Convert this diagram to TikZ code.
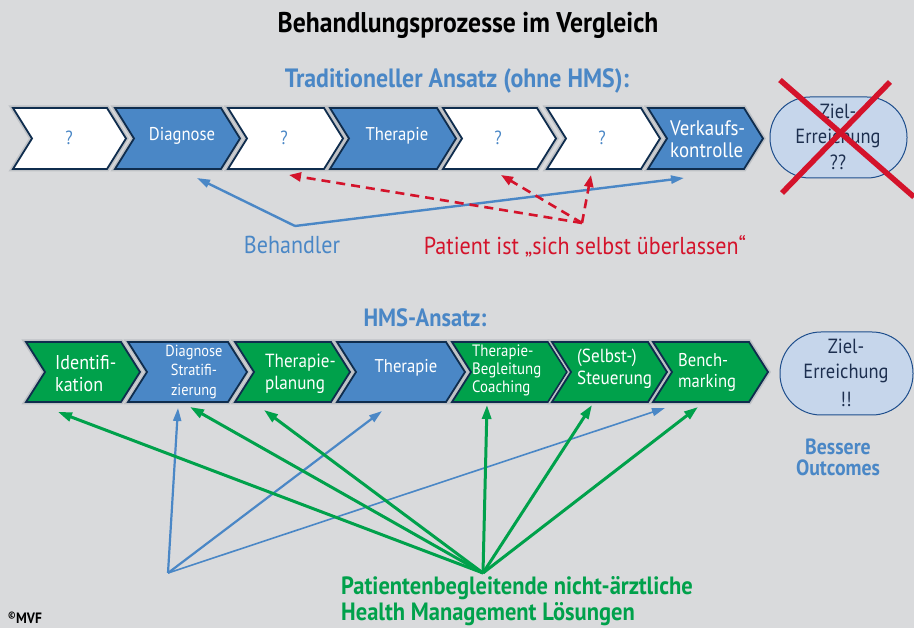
\documentclass[tikz,border=0pt]{standalone}
\usepackage{fontspec}
\setmainfont{PT Sans}[FakeStretch=0.9]
\usetikzlibrary{arrows.meta}
\definecolor{bg}{HTML}{D9DADC}
\definecolor{blueF}{HTML}{4A87C6}
\definecolor{greenF}{HTML}{00A14B}
\definecolor{navy}{HTML}{0F2D4E}
\definecolor{gapc}{HTML}{BEC1C5}
\definecolor{ellF}{HTML}{C6D6EB}
\definecolor{ellD}{HTML}{1E4E8C}
\definecolor{ellT}{HTML}{1D2F4F}
\definecolor{redC}{HTML}{D4132B}
\newcommand\fs[2]{\fontsize{#1}{#2}\selectfont}
% L tip top bot fill
\newcommand\chev[5]{%
  \path[draw=gapc, line width=5pt, line join=miter] (#1,#3) -- ({#2-19},#3) -- (#2,{(#3+#4)/2}) -- ({#2-19},#4) -- (#1,#4) -- ({#1+19},{(#3+#4)/2}) -- cycle;
  \path[fill=#5, draw=navy, line width=1.8pt, line join=miter] (#1,#3) -- ({#2-19},#3) -- (#2,{(#3+#4)/2}) -- ({#2-19},#4) -- (#1,#4) -- ({#1+19},{(#3+#4)/2}) -- cycle;
}
\begin{document}
\begin{tikzpicture}[x=1pt,y=-1pt,
  wtxt/.style={text=white, inner sep=0pt, align=left},
  qtxt/.style={text=blueF, inner sep=0pt, font=\fs{19}{22}},
  ell/.style={fill=ellF, draw=ellD, line width=1pt},
  elltxt/.style={text=ellT, inner sep=0pt, align=center},
  blarr/.style={draw=blueF, line width=2.4pt, -{Triangle[length=13pt,width=8pt]}},
  grarr/.style={draw=greenF, line width=3pt, -{Triangle[length=14pt,width=9pt]}},
  rdarr/.style={draw=redC, line width=2.6pt, dash pattern=on 9pt off 6pt, -{Triangle[length=12pt,width=9pt]}},
  head/.style={inner sep=0pt, font=\bfseries\fs{26.5}{30}}
]
\fill[bg] (0,0) rectangle (914,628);
\useasboundingbox (0,0) rectangle (914,628);

% titles
\node[head, font=\bfseries\fs{28.5}{32}] (title) at (468,25) {Behandlungsprozesse im Vergleich};
\node[head, text=blueF] (trad) at (457,81) {Traditioneller Ansatz (ohne HMS):};
\node[head, text=blueF, font=\bfseries\fs{25}{30}] (hms) at (425,318) {HMS-Ansatz:};

% row 1 chevrons
\chev{13}{126}{108}{169}{white}
\chev{115}{240}{108}{169}{blueF}
\chev{228}{343}{108}{169}{white}
\chev{330}{456}{108}{169}{blueF}
\chev{443}{556}{108}{169}{white}
\chev{547}{660}{108}{169}{white}
\chev{648}{763}{108}{169}{blueF}
\node[qtxt] (a1) at (69,138) {?};
\node[wtxt, font=\fs{18.5}{22}] (a2) at (182,136) {Diagnose};
\node[qtxt] (a3) at (284,138) {?};
\node[wtxt, font=\fs{18.5}{22}] (a4) at (397,136) {Therapie};
\node[qtxt] (a5) at (498,138) {?};
\node[qtxt] (a6) at (602,138) {?};
\node[wtxt, font=\fs{21}{22}, anchor=west] (a7) at (670,139) {Verkaufs-\\kontrolle};

% goal 1
\draw[ell, rounded corners=40pt] (770,97) rectangle (907,178);
\node[elltxt, font=\fs{20.5}{25}] (z1) at (838,137) {Ziel-\\Erreichung\\[1pt]??};
\coordinate (x1a) at (780,80);
\coordinate (x1b) at (914,197);
\coordinate (x2a) at (890,82);
\coordinate (x2b) at (782,193);
\draw[redC, line width=5.5pt] (x1a) -- (x1b);
\draw[redC, line width=5.5pt] (x2a) -- (x2b);

% row 1 arrows
\coordinate (bv) at (295,226);
\coordinate (bt1) at (197,178);
\coordinate (bt2) at (684,178);
\draw[blarr] (bv) -- (bt1);
\draw[blarr] (bv) -- (bt2);
\node[inner sep=0pt, text=blueF, font=\fs{24.5}{28}] (beh) at (292,245) {Behandler};

\coordinate (rv) at (582,223);
\coordinate (rt1) at (289,175);
\coordinate (rt2) at (501,175);
\coordinate (rt3) at (591,175);
\draw[rdarr] (rv) -- (rt1);
\draw[rdarr] (rv) -- (rt2);
\draw[rdarr] (rv) -- (rt3);
\node[inner sep=0pt, text=redC, font=\fs{24.5}{28}] (pat) at (585,246) {Patient ist „sich selbst überlassen“};

% row 2 chevrons
\chev{26}{140}{342}{402}{greenF}
\chev{128}{247}{342}{402}{blueF}
\chev{235}{350}{342}{402}{greenF}
\chev{337}{465}{342}{402}{blueF}
\chev{452}{567}{342}{402}{greenF}
\chev{552}{667}{342}{402}{greenF}
\chev{653}{768}{342}{402}{greenF}
\node[wtxt, font=\fs{20}{22}, anchor=west] (b1) at (55,374) {Identifi-\\kation};
\node[wtxt, font=\fs{16}{19.5}, align=center] (b2) at (194,372) {Diagnose\\Stratifi-\\zierung};
\node[wtxt, font=\fs{19}{22}, anchor=west] (b3) at (265,374) {Therapie-\\planung};
\node[wtxt, font=\fs{18.5}{22}] (b4) at (406,368) {Therapie};
\node[wtxt, font=\fs{16.5}{18}, anchor=west] (b5) at (472,370) {Therapie-\\Begleitung\\Coaching};
\node[wtxt, font=\fs{19}{22}, anchor=west] (b6) at (577,369) {(Selbst-)\\Steuerung};
\node[wtxt, font=\fs{18.5}{21}, anchor=west] (b7) at (678,372) {Bench-\\marking};

% goal 2
\draw[ell, rounded corners=41pt] (780,332) rectangle (913,415);
\node[elltxt, font=\fs{20.5}{25}] (z2) at (846,373) {Ziel-\\Erreichung\\[3pt]!!};
\node[inner sep=0pt, text=blueF, align=center, font=\bfseries\fs{22}{21}] (outc) at (838,457) {Bessere\\Outcomes};

% lower arrows
\coordinate (lbv) at (168,573);
\coordinate (lb1) at (178,408);
\coordinate (lb2) at (382,411);
\coordinate (lb3) at (665,408);
\draw[blarr, line width=2.2pt] (lbv) -- (lb1);
\draw[blarr, line width=2.2pt] (lbv) -- (lb2);
\draw[blarr, line width=1.6pt] (lbv) -- (lb3);

\coordinate (gv) at (483,573);
\coordinate (g1) at (58,412);
\coordinate (g2) at (190,407);
\coordinate (g3) at (264,410);
\coordinate (g4) at (487,405);
\coordinate (g5) at (592,405);
\coordinate (g6) at (698,407);
\foreach \t in {g1,g2,g3,g4,g5,g6} \draw[grarr] (gv) -- (\t);

\node[inner sep=0pt, anchor=west, align=left, text=greenF, font=\bfseries\fs{25}{26.5}] (hml) at (341,601) {Patientenbegleitende nicht-ärztliche\\Health Management Lösungen};
\node[inner sep=0pt, anchor=west, font=\bfseries\fs{15}{16}] (mvf) at (8,618) {\textsuperscript{\fs{10}{10}©}MVF};
\end{tikzpicture}
\end{document}
